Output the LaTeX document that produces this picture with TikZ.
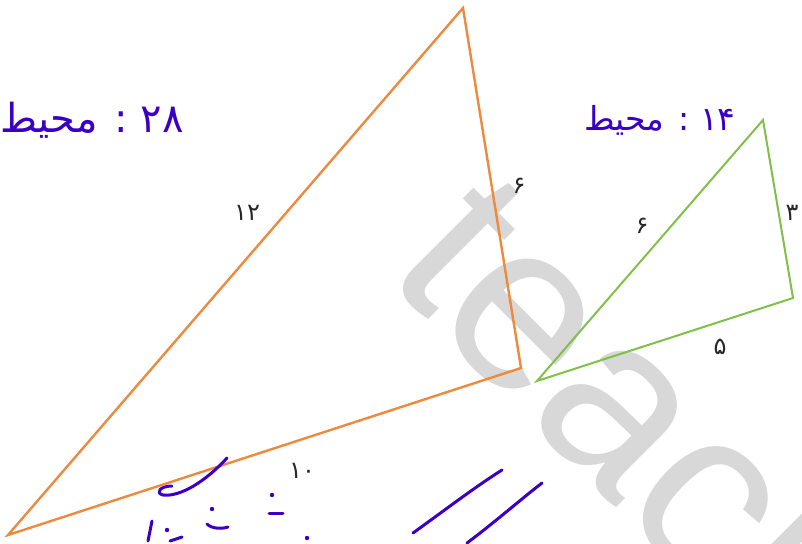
\documentclass[tikz,border=0pt]{standalone}
\usepackage{fontspec}
\setmainfont{DejaVu Sans}
\newfontfamily\fa[Script=Arabic]{DejaVu Sans}
\newfontfamily\wmfont{Liberation Sans}
\TeXXeTstate=1
\definecolor{triorange}{RGB}{238,138,62}
\definecolor{trigreen}{RGB}{128,192,72}
\definecolor{inkblue}{RGB}{58,0,196}
\definecolor{wmgray}{RGB}{216,216,216}
\begin{document}
\begin{tikzpicture}[x=1pt,y=-1pt,
  tri/.style={line width=2.4pt,line join=miter},
  num/.style={font=\fa\fontsize{24}{24}\selectfont,text=black!85,inner sep=0pt},
  ink/.style={font=\fa\fontsize{40}{40}\selectfont,text=inkblue,inner sep=0pt},
  pen/.style={draw=inkblue,line width=3pt,line cap=round,line join=round},
  wmark/.style={font=\wmfont\fontsize{238}{238}\selectfont,text=wmgray,inner sep=0pt,anchor=base west,rotate=-45}]
\useasboundingbox (0,0) rectangle (802,543);
% watermark
\node[wmark] (wm) at (382,274) {teach};
% orange triangle
\coordinate (A) at (8,535);
\coordinate (B) at (463,8);
\coordinate (C) at (521,368);
\draw[tri,draw=triorange] (A) -- (B) -- (C) -- cycle;
% green triangle
\coordinate (D) at (537,381);
\coordinate (E) at (763,120);
\coordinate (F) at (793,298);
\draw[tri,draw=trigreen,line width=2pt] (D) -- (E) -- (F) -- cycle;
% side labels
\node[num] (l12) at (247,213) {۱۲};
\node[num] (l6a) at (519,186) {۶};
\node[num] (l10) at (302,471) {۱۰};
\node[num] (l6b) at (642,226) {۶};
\node[num] (l3) at (792,213) {۳};
\node[num] (l5) at (720,347) {۵};
% handwritten perimeters
\node[ink] (p28) at (92,120) {\beginR\beginL ۲۸\endL{} : محیط\endR};
\node[ink,font=\fa\fontsize{33}{33}\selectfont] (p14) at (660,120) {\beginR\beginL ۱۴\endL{} : محیط\endR};
% handwritten strokes at the bottom
\draw[pen] (227,458) .. controls (205,482) and (180,497) .. (163,495) .. controls (155,493) and (160,486) .. (172,486);
\fill[inkblue] (212,509) circle (2.2pt);
\draw[pen] (207,524) .. controls (212,529) and (222,529) .. (228,527);
\fill[inkblue] (272,495) circle (2.2pt);
\draw[pen] (269,513) -- (283,513);
\fill[inkblue] (307,538) circle (2.2pt);
\draw[pen] (152,521) -- (148,541);
\fill[inkblue] (167,530) circle (2.2pt);
\draw[pen] (170,541) -- (182,537);
\draw[pen] (413,533) .. controls (445,510) and (475,487) .. (502,470);
\draw[pen] (467,543) .. controls (495,522) and (520,500) .. (542,483);
\end{tikzpicture}
\end{document}
